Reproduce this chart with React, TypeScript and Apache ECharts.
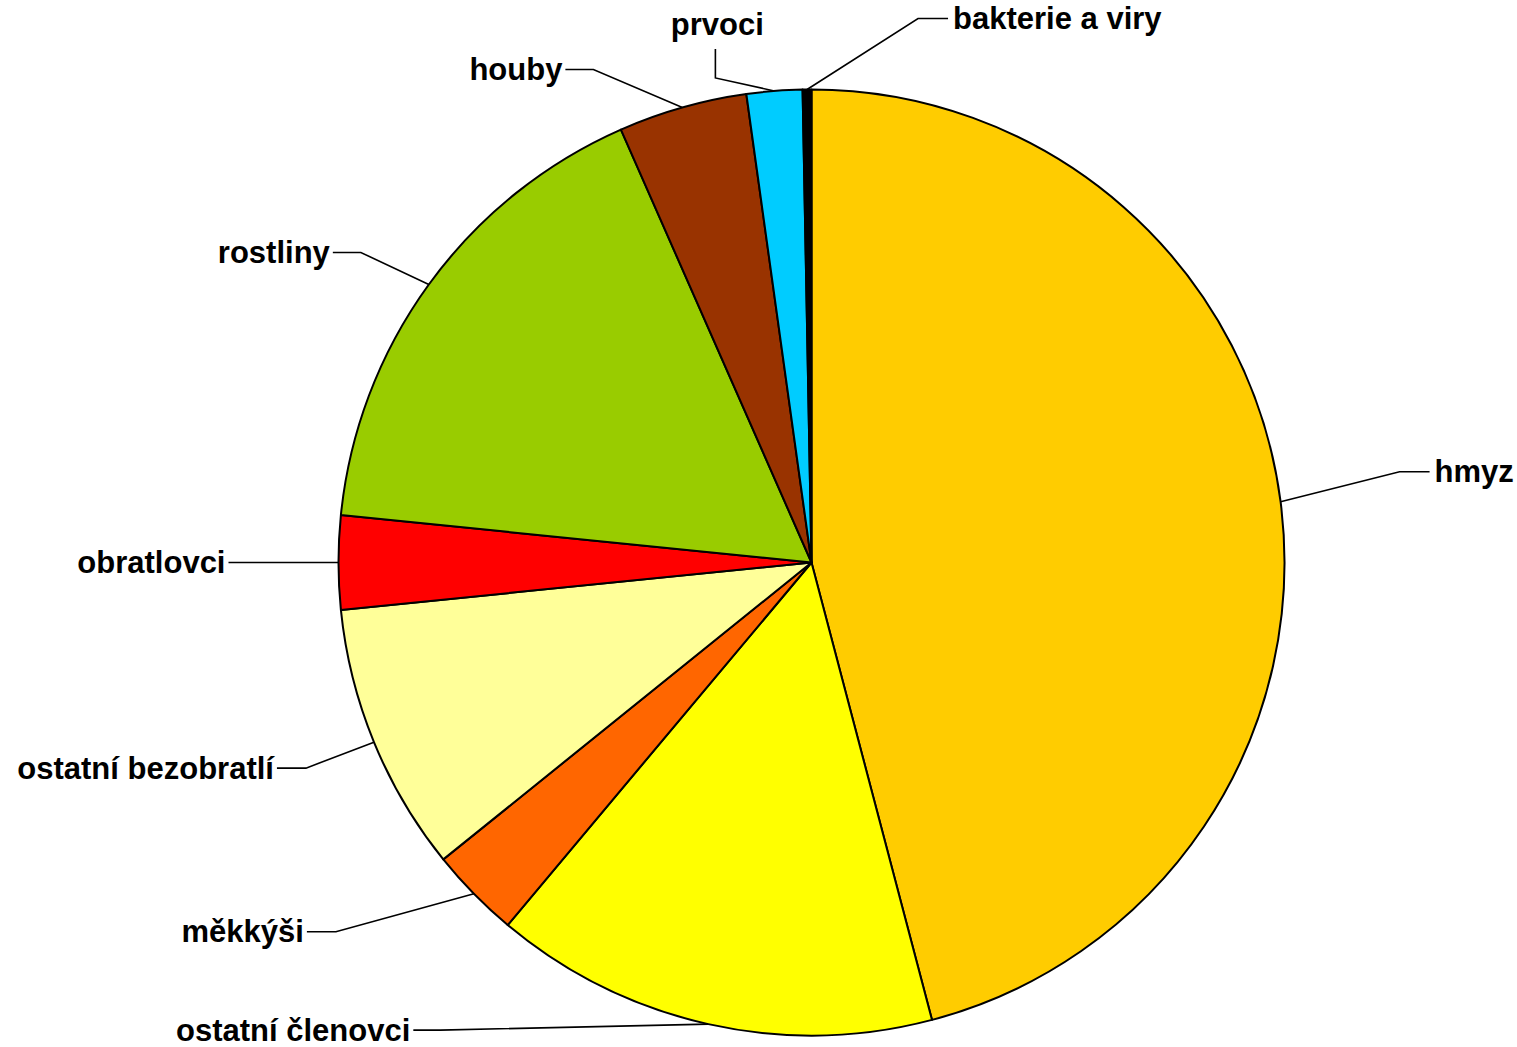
import React, { useEffect, useRef } from "react";
import * as echarts from "echarts";

const categories = [
  "hmyz",
  "ostatní členovci",
  "měkkýši",
  "ostatní bezobratlí",
  "obratlovci",
  "rostliny",
  "houby",
  "prvoci",
  "bakterie a viry",
];
const shares = [45.9, 15.2, 3.1, 9.2, 3.2, 16.8, 4.4, 1.9, 0.3];
const colors = [
  "#FFCC00",
  "#FFFF00",
  "#FF6600",
  "#FFFF99",
  "#FF0000",
  "#99CC00",
  "#993300",
  "#00CCFF",
  "#000000",
];

// leader-line geometry: kink offset from the slice edge, then final segment
const leaders = [
  { kx: 119, ky: -30, ex: 30, ey: 0 },
  { kx: -268, ky: 6, ex: -27, ey: 0 },
  { kx: -138, ky: 38, ex: -29, ey: 0 },
  { kx: -68, ky: 26, ex: -29, ey: 0 },
  { kx: -80, ky: 0, ex: -30, ey: 0 },
  { kx: -68, ky: -32, ex: -28, ey: 0 },
  { kx: -89, ky: -38, ex: -28, ey: 0 },
  { kx: -59, ky: -13, ex: 0, ey: -29 },
  { kx: 111, ky: -71, ex: 30, ey: 0 },
];

const CX = 811.5;
const CY = 562.5;
const R = 473;

function edgePoint(i: number): number[] {
  const total = shares.reduce((a, b) => a + b, 0);
  let cum = 0;
  for (let j = 0; j < i; j++) cum += shares[j];
  const mid = ((cum + shares[i] / 2) / total) * Math.PI * 2;
  return [CX + R * Math.sin(mid), CY - R * Math.cos(mid)];
}

export default function App() {
  const ref = useRef<HTMLDivElement>(null);
  useEffect(() => {
    if (!ref.current) return;
    const chart = echarts.init(ref.current, null, { renderer: "svg" });
    chart.setOption({
      animation: false,
      backgroundColor: "#ffffff",
      series: [
        {
          type: "pie",
          center: [CX, CY],
          radius: R,
          startAngle: 90,
          clockwise: true,
          avoidLabelOverlap: false,
          itemStyle: { borderColor: "#000000", borderWidth: 2 },
          label: {
            show: true,
            position: "outer",
            alignTo: "none",
            color: "#000000",
            fontFamily: "'Liberation Sans', Arial, sans-serif",
            fontWeight: "bold",
            fontSize: 31,
          },
          labelLine: {
            show: true,
            length: 40,
            length2: 30,
            lineStyle: { color: "#000000", width: 1.6 },
          },
          labelLayout: (p: any) => {
            const L = leaders[p.dataIndex];
            const pts = p.labelLinePoints;
            const e = pts && pts[0] ? pts[0] : edgePoint(p.dataIndex);
            const k = [e[0] + L.kx, e[1] + L.ky];
            const end = [k[0] + L.ex, k[1] + L.ey];
            if (L.ey !== 0) {
              return {
                x: end[0] + 2,
                y: end[1] - 9,
                align: "center",
                verticalAlign: "bottom",
                labelLinePoints: [e, k, end],
              };
            }
            const right = L.ex > 0;
            return {
              x: end[0] + (right ? 5 : -3),
              y: end[1],
              align: right ? "left" : "right",
              verticalAlign: "middle",
              labelLinePoints: [e, k, end],
            };
          },
          data: categories.map((name, i) => ({
            name,
            value: shares[i],
            itemStyle: { color: colors[i] },
          })),
        },
      ],
    });
    return () => chart.dispose();
  }, []);
  return (
    <div
      ref={ref}
      style={{ position: "absolute", left: 0, top: 0, width: 1517, height: 1047 }}
    />
  );
}
